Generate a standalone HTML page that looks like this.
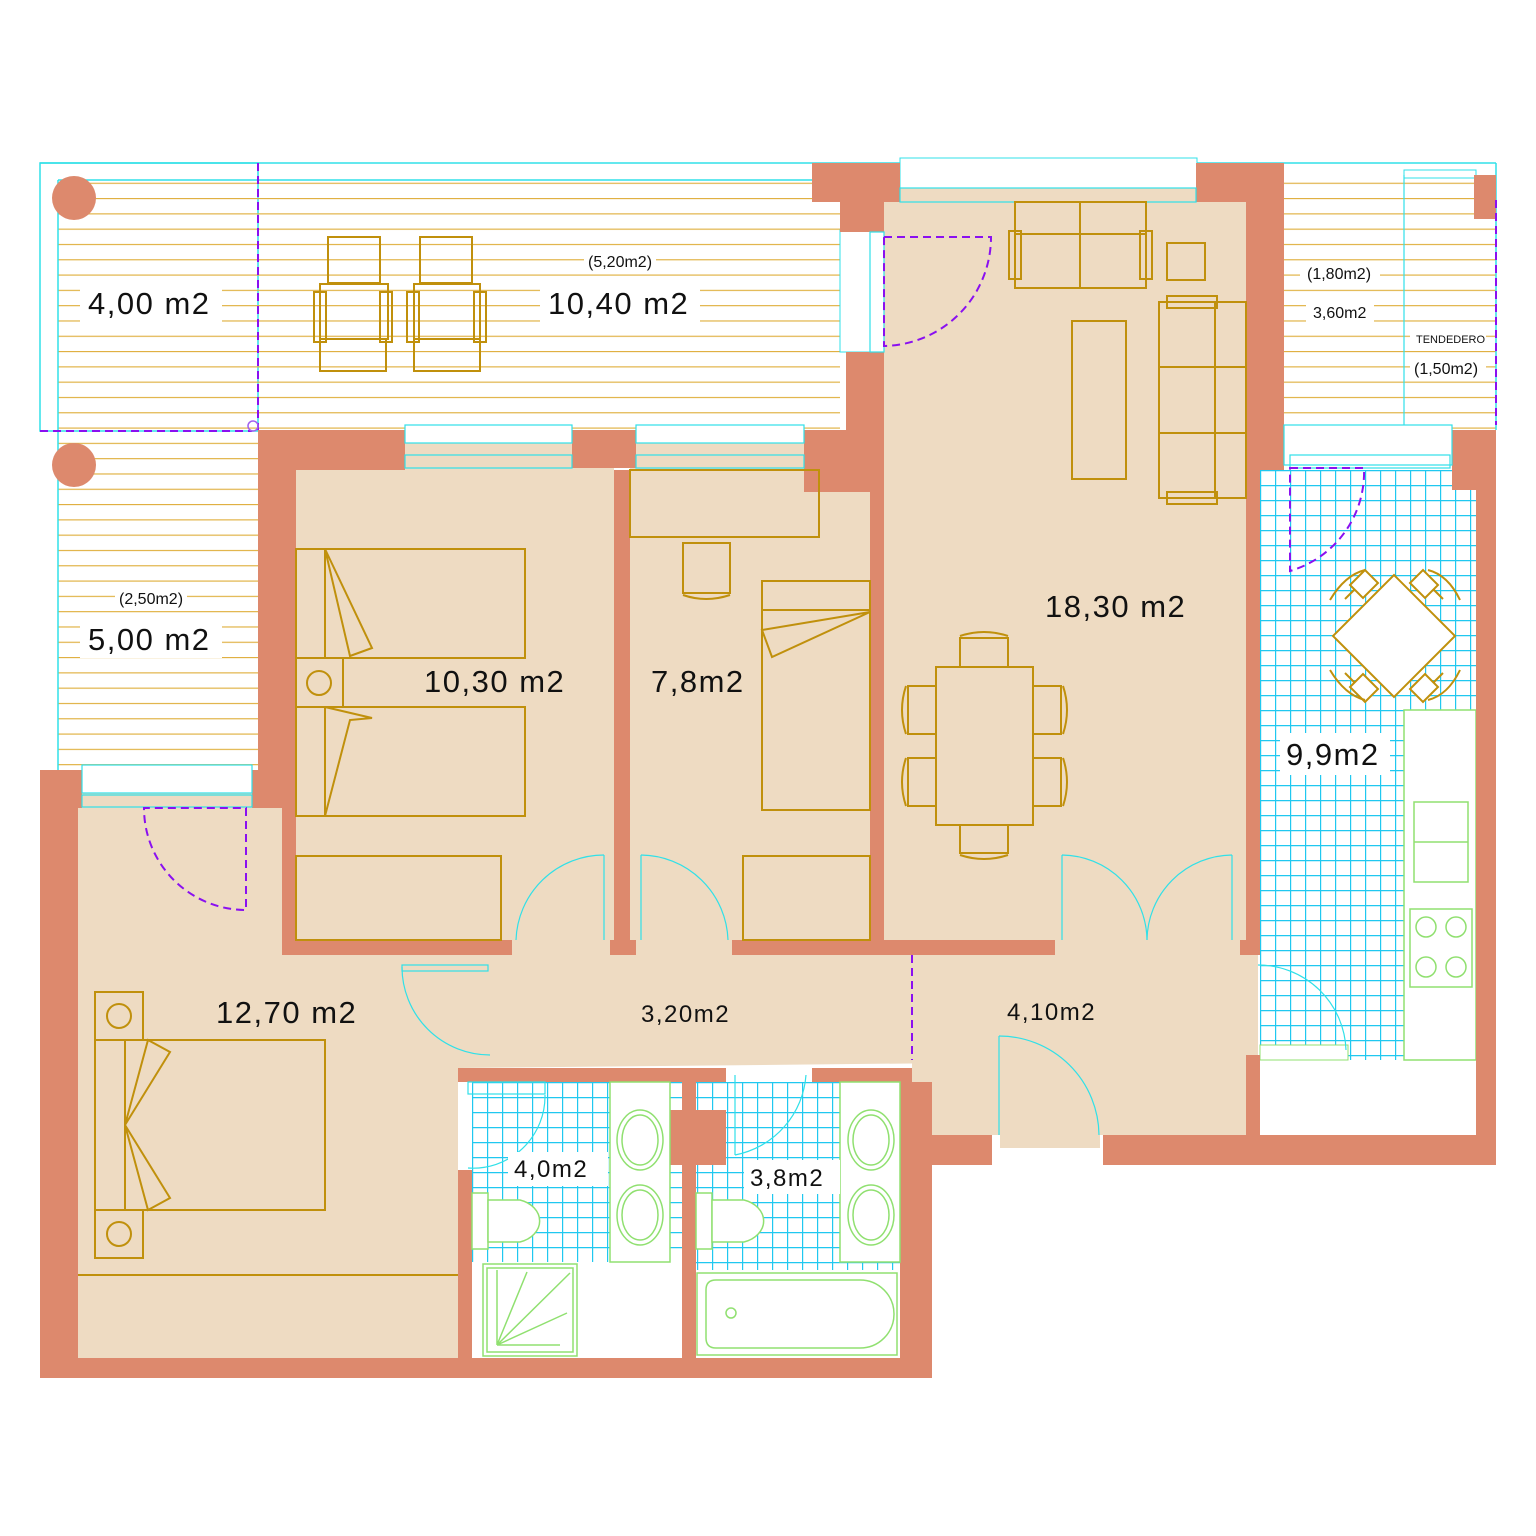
<!DOCTYPE html>
<html><head><meta charset="utf-8"><style>
html,body{margin:0;padding:0;background:#fff;}
svg{display:block;}
text{font-family:"Liberation Sans",sans-serif;fill:#111;}
</style></head><body>
<svg width="1536" height="1536" viewBox="0 0 1536 1536" xmlns="http://www.w3.org/2000/svg">
<defs>
<pattern id="str" x="0" y="198" width="10" height="15.3" patternUnits="userSpaceOnUse">
<line x1="0" y1="0.5" x2="10" y2="0.5" stroke="#e0b040" stroke-width="1.3"/>
</pattern>
<pattern id="tile" x="1260" y="470" width="15" height="15" patternUnits="userSpaceOnUse">
<path d="M0 0.5H15M0.5 0V15" stroke="#20c8f0" stroke-width="1.4" fill="none"/>
</pattern>
<pattern id="tile2" x="472" y="1082" width="15" height="15" patternUnits="userSpaceOnUse">
<path d="M0 0.5H15M0.5 0V15" stroke="#20c8f0" stroke-width="1.4" fill="none"/>
</pattern>
</defs>

<!-- terraces -->
<rect x="40" y="163" width="218" height="268" fill="none" stroke="#30e0e8" stroke-width="1.5"/>
<rect x="58" y="180" width="782" height="250" fill="url(#str)"/>
<rect x="58" y="430" width="200" height="340" fill="url(#str)"/>
<rect x="1284" y="180" width="212" height="250" fill="url(#str)"/>
<line x1="40" y1="163" x2="1496" y2="163" stroke="#30e0e8" stroke-width="1.5"/>
<line x1="58" y1="180" x2="840" y2="180" stroke="#30e0e8" stroke-width="1.5"/>
<line x1="58" y1="180" x2="58" y2="770" stroke="#30e0e8" stroke-width="1.5"/>
<line x1="1496" y1="163" x2="1496" y2="430" stroke="#30e0e8" stroke-width="1.5"/>
<line x1="1404" y1="175" x2="1404" y2="430" stroke="#30e0e8" stroke-width="1.2"/>
<rect x="1404" y="170" width="72" height="8" fill="none" stroke="#30e0e8"/>
<rect x="840" y="230" width="30" height="122" fill="#fff" stroke="#30e0e8"/>
<rect x="900" y="158" width="297" height="30" fill="#fff" stroke="#30e0e8"/>

<!-- floors -->
<g fill="#eedbc2">
<rect x="884" y="188" width="362" height="752"/>
<rect x="296" y="440" width="318" height="500"/>
<rect x="630" y="440" width="240" height="500"/>
<rect x="78" y="790" width="380" height="568"/>
<polygon points="458,935 1258,935 1258,1060 458,1068"/>
<rect x="912" y="955" width="344" height="180"/>
<rect x="1000" y="1130" width="100" height="18"/>
</g>
<!-- kitchen & baths -->
<rect x="1260" y="470" width="216" height="590" fill="url(#tile)"/>
<rect x="1404" y="710" width="72" height="350" fill="#fff" stroke="#90e070" stroke-width="1.5"/>
<rect x="1260" y="1045" width="88" height="15" fill="#fff" stroke="#90e070"/>
<rect x="472" y="1082" width="210" height="180" fill="url(#tile2)"/>
<rect x="696" y="1082" width="204" height="188" fill="url(#tile2)"/>
<rect x="472" y="1262" width="210" height="96" fill="#fff"/>
<rect x="696" y="1270" width="204" height="88" fill="#fff"/>

<!-- walls -->
<g fill="#dd896d">
<rect x="812" y="163" width="88" height="39"/>
<rect x="840" y="202" width="44" height="30"/>
<rect x="1196" y="163" width="88" height="39"/>
<rect x="846" y="352" width="38" height="118"/>
<rect x="1246" y="202" width="38" height="268"/>
<rect x="1246" y="470" width="14" height="485"/>
<rect x="870" y="470" width="14" height="470"/>
<rect x="258" y="430" width="147" height="40"/>
<rect x="572" y="430" width="64" height="38"/>
<rect x="804" y="430" width="80" height="62"/>
<rect x="258" y="470" width="38" height="300"/>
<rect x="282" y="770" width="14" height="185"/>
<rect x="614" y="470" width="16" height="470"/>
<rect x="282" y="940" width="230" height="15"/>
<rect x="610" y="940" width="26" height="15"/>
<rect x="732" y="940" width="323" height="15"/>
<rect x="1240" y="940" width="20" height="15"/>
<rect x="40" y="770" width="42" height="38"/>
<rect x="40" y="808" width="38" height="570"/>
<rect x="252" y="770" width="44" height="38"/>
<rect x="40" y="1358" width="892" height="20"/>
<rect x="458" y="1068" width="268" height="14"/>
<rect x="458" y="1170" width="14" height="188"/>
<rect x="682" y="1082" width="14" height="276"/>
<rect x="670" y="1110" width="56" height="55"/>
<rect x="812" y="1068" width="100" height="14"/>
<rect x="900" y="1082" width="32" height="296"/>
<rect x="912" y="1135" width="80" height="30"/>
<rect x="1103" y="1135" width="393" height="30"/>
<rect x="1246" y="1055" width="14" height="80"/>
<rect x="1476" y="490" width="20" height="645"/>
<rect x="1452" y="430" width="44" height="60"/>
<rect x="1474" y="175" width="22" height="44"/>
</g>
<!-- window strips -->
<g fill="#fff" stroke="#30e0e8" stroke-width="1.2">
<rect x="405" y="425" width="167" height="18"/>
<rect x="636" y="425" width="168" height="18"/>
<rect x="82" y="765" width="170" height="28"/>
<rect x="1284" y="425" width="168" height="40"/>
</g>
<g stroke="#30e0e8" stroke-width="1.2" fill="none">
<rect x="405" y="455" width="167" height="13"/><rect x="636" y="455" width="168" height="13"/>
<rect x="82" y="795" width="170" height="12"/><rect x="1290" y="455" width="160" height="13"/>
<rect x="900" y="188" width="296" height="14"/><rect x="870" y="232" width="14" height="120"/>
</g>

<!-- columns -->
<circle cx="74" cy="198" r="22" fill="#dd896d"/>
<circle cx="74" cy="465" r="22" fill="#dd896d"/>

<!-- purple dashed -->
<g stroke="#8a10f0" stroke-width="2" fill="none" stroke-dasharray="8,5">
<line x1="258" y1="163" x2="258" y2="430"/>
<line x1="40" y1="431" x2="252" y2="431"/>
<path d="M884 237H991V237A109 109 0 0 1 884 346Z"/>
<path d="M1290 468H1364A103 103 0 0 1 1290 571Z"/>
<path d="M246 808V910A102 102 0 0 1 144 808Z"/>
<line x1="912" y1="955" x2="912" y2="1060"/>
<line x1="1496" y1="200" x2="1496" y2="425"/>
</g>
<circle cx="253" cy="426" r="5" fill="none" stroke="#a060f0" stroke-width="1.5"/>

<!-- cyan doors -->
<g stroke="#30e0e8" stroke-width="1.2" fill="none">
<path d="M604 855A88 88 0 0 0 516 940"/><line x1="604" y1="855" x2="604" y2="940"/>
<path d="M641 855A88 88 0 0 1 728 940"/><line x1="641" y1="855" x2="641" y2="940"/>
<path d="M1062 855A86 86 0 0 1 1147 940"/><line x1="1062" y1="855" x2="1062" y2="940"/>
<path d="M1232 855A86 86 0 0 0 1147 940"/><line x1="1232" y1="855" x2="1232" y2="940"/>
<path d="M402 967A88 88 0 0 0 490 1055"/><rect x="402" y="965" width="86" height="6"/>
<path d="M999 1036A100 100 0 0 1 1099 1135"/><line x1="999" y1="1036" x2="999" y2="1135"/>
<path d="M1258 965A88 88 0 0 1 1346 1050"/>
<path d="M545 1095A72 72 0 0 1 468 1168"/><rect x="468" y="1082" width="77" height="12"/>
<path d="M806 1075A88 88 0 0 1 735 1155"/><line x1="735" y1="1075" x2="735" y2="1155"/>
</g>

<!-- gold furniture -->
<g stroke="#c0900c" stroke-width="2" fill="none">
<rect x="328" y="237" width="52" height="46"/><rect x="320" y="284" width="68" height="55"/><rect x="314" y="292" width="12" height="50"/><rect x="380" y="292" width="12" height="50"/><rect x="320" y="339" width="66" height="32"/>
<rect x="420" y="237" width="52" height="46"/><rect x="414" y="284" width="66" height="55"/><rect x="407" y="292" width="12" height="50"/><rect x="474" y="292" width="12" height="50"/><rect x="414" y="339" width="66" height="32"/>
<rect x="1015" y="202" width="131" height="32"/><line x1="1080" y1="202" x2="1080" y2="288"/><rect x="1015" y="234" width="131" height="54"/><rect x="1009" y="231" width="12" height="48"/><rect x="1140" y="231" width="12" height="48"/>
<rect x="1167" y="243" width="38" height="37"/>
<rect x="1072" y="321" width="54" height="158"/>
<rect x="1159" y="302" width="56" height="196"/><rect x="1215" y="302" width="31" height="196"/><line x1="1159" y1="367" x2="1246" y2="367"/><line x1="1159" y1="433" x2="1246" y2="433"/><rect x="1167" y="296" width="50" height="12"/><rect x="1167" y="492" width="50" height="12"/>
<rect x="936" y="667" width="97" height="158"/>
<rect x="960" y="638" width="48" height="29"/><rect x="960" y="825" width="48" height="28"/>
<rect x="908" y="686" width="28" height="48"/><rect x="908" y="758" width="28" height="48"/>
<rect x="1033" y="686" width="28" height="48"/><rect x="1033" y="758" width="28" height="48"/>
<path d="M960 636Q984 628 1008 636M960 855Q984 863 1008 855M906 686Q898 710 906 734M906 758Q898 782 906 806M1063 686Q1071 710 1063 734M1063 758Q1071 782 1063 806"/>
<rect x="296" y="549" width="229" height="109"/><rect x="296" y="707" width="229" height="109"/>
<rect x="296" y="658" width="47" height="49"/><circle cx="319" cy="683" r="12"/>
<path d="M325 549L372 648L350 656L325 549V658"/><path d="M325 707L372 718L350 720L325 816V707"/>
<rect x="296" y="856" width="205" height="84"/>
<rect x="630" y="470" width="189" height="67"/>
<rect x="683" y="543" width="47" height="50"/><path d="M683 595Q706 603 730 595"/>
<rect x="762" y="581" width="108" height="229"/><line x1="762" y1="610" x2="870" y2="610"/><path d="M870 612L772 657L762 630Z"/>
<rect x="743" y="856" width="127" height="84"/>
<rect x="95" y="992" width="48" height="48"/><circle cx="119" cy="1016" r="12"/>
<rect x="95" y="1210" width="48" height="48"/><circle cx="119" cy="1234" r="12"/>
<rect x="95" y="1040" width="230" height="170"/><line x1="125" y1="1040" x2="125" y2="1210"/>
<path d="M125 1125L148 1040L170 1052Z"/><path d="M125 1125L148 1210L170 1198Z"/>
<line x1="78" y1="1275" x2="458" y2="1275"/>
<polygon points="1394,575 1455,636 1394,697 1333,636" fill="#fff"/>
<path d="M1345 599L1365 579M1423 579L1443 599M1443 673L1423 693M1365 693L1345 673" />
<path d="M1345 599L1330 600M1365 579L1365 570" stroke-width="0"/>
<polygon points="1350,585 1365,570 1378,583 1363,598" fill="#fff"/>
<polygon points="1410,583 1423,570 1438,585 1425,598" fill="#fff"/>
<polygon points="1425,674 1438,687 1423,702 1410,689" fill="#fff"/>
<polygon points="1363,674 1378,689 1365,702 1350,687" fill="#fff"/>
<path d="M1330 600Q1345 575 1365 570M1428 570Q1448 575 1460 600M1460 670Q1448 695 1428 700M1365 700Q1345 695 1330 670"/>
</g>
<g stroke="#90e070" stroke-width="1.5" fill="none">
<rect x="1414" y="802" width="54" height="80"/><line x1="1414" y1="842" x2="1468" y2="842"/>
<rect x="1410" y="909" width="62" height="78"/>
<circle cx="1426" cy="927" r="10"/><circle cx="1456" cy="927" r="10"/><circle cx="1426" cy="967" r="10"/><circle cx="1456" cy="967" r="10"/>
<rect x="610" y="1082" width="60" height="180" fill="#fff"/>
<ellipse cx="640" cy="1140" rx="23" ry="30"/><ellipse cx="640" cy="1140" rx="18" ry="25"/>
<ellipse cx="640" cy="1215" rx="23" ry="30"/><ellipse cx="640" cy="1215" rx="18" ry="25"/>
<rect x="472" y="1193" width="16" height="56" fill="#fff"/><path d="M488 1200H520A28 22 0 0 1 520 1242H488Z" fill="#fff"/>
<rect x="483" y="1264" width="94" height="92"/><rect x="487" y="1268" width="86" height="84"/>
<path d="M497 1345L497 1270M497 1345L527 1272M497 1345L570 1273M497 1345L567 1313M497 1345L560 1345"/>
<rect x="840" y="1082" width="60" height="180" fill="#fff"/>
<ellipse cx="871" cy="1140" rx="23" ry="30"/><ellipse cx="871" cy="1140" rx="18" ry="25"/>
<ellipse cx="871" cy="1215" rx="23" ry="30"/><ellipse cx="871" cy="1215" rx="18" ry="25"/>
<rect x="696" y="1193" width="16" height="56" fill="#fff"/><path d="M712 1200H744A28 22 0 0 1 744 1242H712Z" fill="#fff"/>
<rect x="697" y="1273" width="200" height="82"/><path d="M716 1280H860A30 30 0 0 1 860 1348H716Q706 1348 706 1338V1290Q706 1280 716 1280Z"/>
<circle cx="731" cy="1313" r="5"/>
</g>

<!-- labels -->
<g fill="#fff">
<rect x="80" y="283" width="142" height="40"/><rect x="540" y="283" width="160" height="40"/><rect x="584" y="250" width="72" height="22"/>
<rect x="80" y="618" width="142" height="40"/><rect x="115" y="587" width="72" height="22"/>
<rect x="1300" y="262" width="80" height="24"/><rect x="1306" y="300" width="68" height="24"/><rect x="1410" y="330" width="76" height="18"/><rect x="1410" y="356" width="76" height="24"/>
<rect x="1280" y="733" width="110" height="42"/>
<rect x="508" y="1152" width="100" height="34"/><rect x="744" y="1160" width="96" height="34"/>
</g>
<g font-size="31" letter-spacing="1.5">
<text x="88" y="314">4,00 m2</text>
<text x="548" y="314">10,40 m2</text>
<text x="88" y="650">5,00 m2</text>
<text x="424" y="692">10,30 m2</text>
<text x="651" y="692">7,8m2</text>
<text x="1045" y="617">18,30 m2</text>
<text x="1286" y="765">9,9m2</text>
<text x="216" y="1023">12,70 m2</text>
</g>
<g font-size="24" letter-spacing="1.5">
<text x="641" y="1022">3,20m2</text>
<text x="1007" y="1020">4,10m2</text>
<text x="514" y="1177">4,0m2</text>
<text x="750" y="1186">3,8m2</text>
</g>
<g font-size="16">
<text x="588" y="267">(5,20m2)</text>
<text x="119" y="604">(2,50m2)</text>
<text x="1307" y="279">(1,80m2)</text>
<text x="1313" y="318">3,60m2</text>
<text x="1414" y="374">(1,50m2)</text>
</g>
<text x="1416" y="343" font-size="11">TENDEDERO</text>
</svg>
</body></html>
